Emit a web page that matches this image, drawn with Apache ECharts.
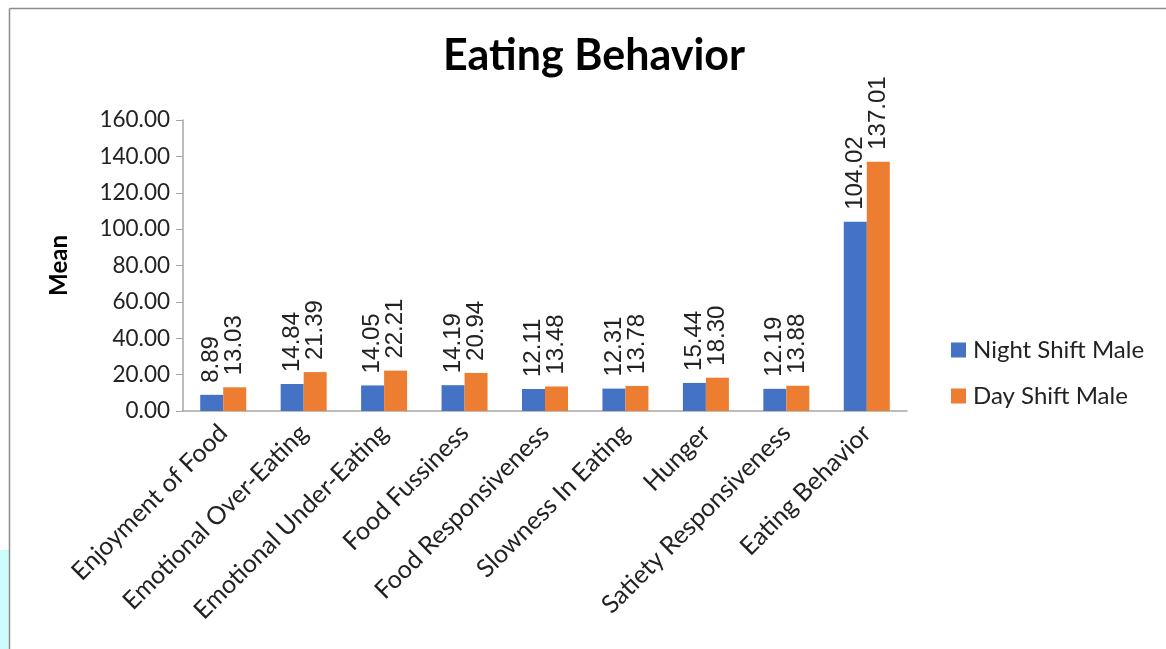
<!DOCTYPE html>
<html><head><meta charset="utf-8">
<script src="https://cdn.jsdelivr.net/npm/echarts@6/dist/echarts.min.js"></script>
<style>html,body{margin:0;padding:0;background:#fff}#c{width:1166px;height:649px}</style>
</head><body><div id="c"></div>
<script>
const categories = ['Enjoyment of Food','Emotional Over-Eating','Emotional Under-Eating','Food Fussiness','Food Responsiveness','Slowness In Eating','Hunger','Satiety Responsiveness','Eating Behavior'];
const nightShiftMale = [8.89,14.84,14.05,14.19,12.11,12.31,15.44,12.19,104.02];
const dayShiftMale = [13.03,21.39,22.21,20.94,13.48,13.78,18.30,13.88,137.01];
const seriesNames = ['Night Shift Male','Day Shift Male'];
const chartTitle = 'Eating Behavior';
const yAxisName = 'Mean';

const chart = echarts.init(document.getElementById('c'));
const lbl = {
  show: true, position: 'top', rotate: 90, align: 'left', verticalAlign: 'middle',
  distance: 12, color: '#222', fontFamily: 'Liberation Sans', fontSize: 24,
  formatter: p => p.value.toFixed(2)
};
chart.setOption({
  backgroundColor: '#fff',
  animation: false,
  graphic: [
    {type:'rect', shape:{x:0,y:550,width:9,height:99}, style:{fill:'#cdfcfc'}},
    {type:'line', shape:{x1:9.5,y1:8.5,x2:1166,y2:8.5}, style:{stroke:'#8c8c8c',lineWidth:1.5}},
    {type:'line', shape:{x1:9.5,y1:8.5,x2:9.5,y2:649}, style:{stroke:'#8c8c8c',lineWidth:1.5}}
  ],
  title: {
    text: chartTitle, left: 589, top: 30, textAlign: 'center',
    textStyle: {fontFamily: 'Lato', fontWeight: 'bold', fontSize: 43, color: '#000'}
  },
  legend: {
    orient: 'vertical', left: 946, top: 333, itemWidth: 15, itemHeight: 15, itemGap: 22,
    icon: 'rect', data: seriesNames,
    textStyle: {fontFamily: 'Lato', fontSize: 24, color: '#222', padding: [0,0,0,2]}
  },
  grid: {left: 183, right: 259, top: 120, bottom: 238, containLabel: false},
  xAxis: {
    type: 'category', data: categories,
    axisLine: {lineStyle: {color: '#a6a6a6', width: 1.5}},
    axisTick: {show: false},
    axisLabel: {rotate: 45, interval: 0, fontFamily: 'Lato', fontSize: 25, color: '#222', margin: 18}
  },
  yAxis: {
    type: 'value', min: 0, max: 160, interval: 20,
    name: yAxisName, nameLocation: 'middle', nameGap: 112, nameRotate: 90,
    nameTextStyle: {fontFamily: 'Lato', fontWeight: 'bold', fontSize: 24, color: '#000'},
    axisLine: {show: true, lineStyle: {color: '#a6a6a6', width: 1.5}},
    axisTick: {show: true, length: 7, inside: false, lineStyle: {color: '#a6a6a6'}},
    splitLine: {show: false},
    axisLabel: {formatter: v => v.toFixed(2), fontFamily: 'Lato', fontSize: 22.5, color: '#222', margin: 13}
  },
  series: [
    {name: seriesNames[0], type: 'bar', data: nightShiftMale, barWidth: 23, barGap: '0%',
     itemStyle: {color: '#4472c4'}, label: lbl},
    {name: seriesNames[1], type: 'bar', data: dayShiftMale, barWidth: 23,
     itemStyle: {color: '#ed7d31'}, label: lbl}
  ]
});
</script></body></html>
